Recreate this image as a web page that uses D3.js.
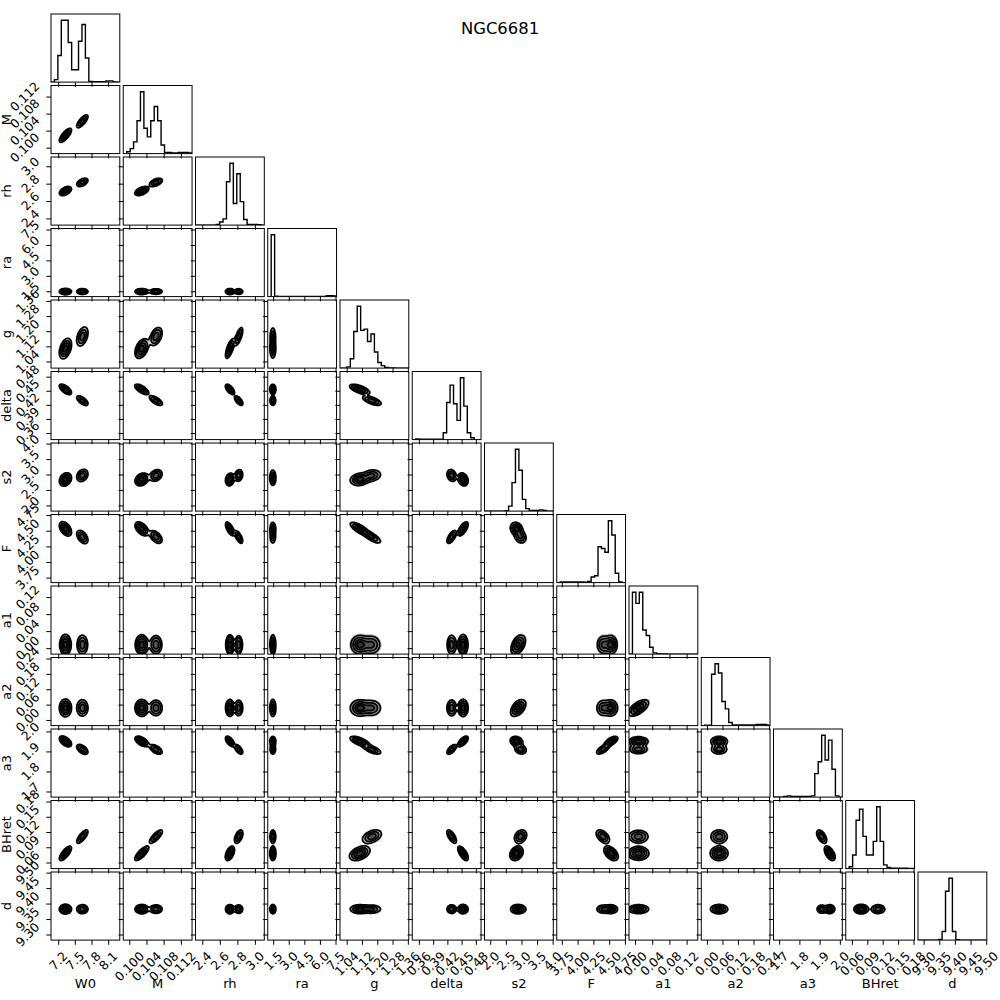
<!DOCTYPE html>
<html><head><meta charset="utf-8">
<script src="https://cdn.jsdelivr.net/npm/d3@7"></script>
<style>body{margin:0;background:#fff} text{font-family:"DejaVu Sans",sans-serif;fill:#000}</style>
</head><body>
<svg id="c" width="1000" height="1000" xmlns="http://www.w3.org/2000/svg"></svg>
<script>
// ---------------- data ----------------
const title = "NGC6681";
const params = ["W0","M","rh","ra","g","delta","s2","F","a1","a2","a3","BHret","d"];
const rangeMin = [7.07, 0.0986, 2.323, 0.98, 1.005, 0.346, 1.816, 3.67, -0.014, -0.022, 1.672, 0.048, 9.282];
const rangeMax = [8.31, 0.1146, 3.107, 7.60, 1.365, 0.491, 4.02, 4.76, 0.146, 0.244, 2.012, 0.182, 9.502];

const tickLabels = [
  ["7.2","7.5","7.8","8.1"],
  ["0.100","0.104","0.108","0.112"],
  ["2.4","2.6","2.8","3.0"],
  ["1.5","3.0","4.5","6.0","7.5"],
  ["1.04","1.12","1.20","1.28","1.36"],
  ["0.36","0.39","0.42","0.45","0.48"],
  ["2.0","2.5","3.0","3.5","4.0"],
  ["3.75","4.00","4.25","4.50","4.75"],
  ["0.00","0.04","0.08","0.12"],
  ["0.00","0.06","0.12","0.18","0.24"],
  ["1.7","1.8","1.9","2.0"],
  ["0.06","0.09","0.12","0.15","0.18"],
  ["9.30","9.35","9.40","9.45","9.50"]
];

// 1-D histograms (20 bins over each range, relative counts)
const histW0    = [0, 4, 43, 100, 100, 64, 20, 20, 66, 93, 39, 1, 0.5, 0.5, 0.5, 0.5, 2, 2, 0.3, 0];
const histM     = [0, 3, 8, 19, 53, 100, 41, 27, 53, 76, 53, 14, 2, 2, 1, 1, 2, 2, 2, 1];
const histRh    = [0, 0, 0, 0, 0, 0, 1, 5, 10, 70, 100, 35, 83, 38, 9, 1, 1, 1, 0.5, 0];
const histRa    = [0, 100, 0.5, 0.2, 0.2, 0.2, 0.2, 0.2, 0.2, 0.2, 0.2, 0.2, 0.2, 0.2, 0.2, 0.2, 0.2, 1.5, 1.5, 1];
const histG     = [0, 0, 2, 15, 59, 100, 61, 63, 43, 55, 26, 9, 4, 1, 0.3, 0.3, 0, 0, 0, 0];
const histDelta = [0, 1, 0.5, 0.5, 0.5, 0.5, 0.5, 0.5, 0.5, 11, 60, 88, 58, 31, 100, 54, 11, 3, 0, 0];
const histS2    = [0, 0, 0, 0, 0, 0, 0.5, 8, 46, 100, 66, 19, 4, 1, 1, 1, 2, 1, 0, 0];
const histF     = [0, 1, 1, 1, 1, 1, 1, 1, 0.5, 2, 9, 11, 58, 55, 49, 100, 77, 15, 1, 0];
const histA1    = [0, 100, 82, 100, 39, 30, 11, 2, 0.5, 0.3, 0.3, 0, 0, 0, 0, 0, 0, 0, 0, 0];
const histA2    = [0, 0.5, 0.5, 83, 100, 85, 39, 27, 5, 1, 1, 1, 1, 1, 1, 1, 2, 2, 2, 0.5];
const histA3    = [0, 0, 0, 1, 2, 1, 1, 1, 1, 1, 1, 2, 38, 57, 100, 60, 92, 45, 2, 0];
const histBHret = [0, 3, 22, 78, 96, 52, 22, 22, 44, 100, 44, 6, 2, 0.5, 0.5, 0.5, 0.5, 0.5, 0.3, 0.3];
const histD     = [0, 0, 0, 0, 0, 0, 1, 14, 79, 100, 14, 0.5, 0, 0, 0, 0, 0, 0, 0, 0];
const hists = [histW0, histM, histRh, histRa, histG, histDelta, histS2, histF, histA1, histA2, histA3, histBHret, histD];

// 2-D posterior: two modes (estimated centres / spreads)
const modeWeight = [0.58, 0.42];
const meanModeA  = [7.33, 0.1029, 2.715, 1.47, 1.108, 0.453, 2.84, 4.53, 0.008, 0.047, 1.95, 0.078, 9.382];
const meanModeB  = [7.635, 0.1062, 2.815, 1.47, 1.172, 0.429, 2.97, 4.40, 0.008, 0.047, 1.91, 0.111, 9.382];
const loadW0     = [0.045, 0.0007, 0.014, 0, 0.012, -0.004, 0.03, -0.03, 0, 0, -0.008, 0.006, 0];
const loadAmp    = [0, 0, 0, 0, 0, 0, 0.07, 0, 0.009, 0.014, 0, 0, 0];
const loadG      = [0, 0, 0.014, 0, 0.02, -0.002, 0, -0.035, 0, 0, -0.006, 0, 0];
const noiseSd    = [0.018, 0.00025, 0.008, 0.09, 0.01, 0.0015, 0.06, 0.025, 0.008, 0.008, 0.006, 0.0025, 0.0065];

// ---------------- layout ----------------
const K = params.length;
const X0 = 51, Y0 = 14, PW = 68.8, PH = 68.1, PX = 72.25, PY = 71.5;
const TICK = 4.7, PAD = 4.7;
const FS_TICK = 12.4, FS_LAB = 13, FS_TITLE = 16.4;

const svg = d3.select("#c");
const defs = svg.append("defs");
const sx = params.map((p, i) => d3.scaleLinear().domain([rangeMin[i], rangeMax[i]]).range([0, PW]));
const sy = params.map((p, i) => d3.scaleLinear().domain([rangeMin[i], rangeMax[i]]).range([PH, 0]));
const levels = [0.5, 1, 1.5, 2].map(s => 1 - Math.exp(-0.5 * s * s));

function cov(i, j) {
  let c = loadW0[i] * loadW0[j] + loadAmp[i] * loadAmp[j] + loadG[i] * loadG[j];
  if (i === j) {
    const bw = (rangeMax[i] - rangeMin[i]) / 20;
    c += noiseSd[i] * noiseSd[i] + (0.35 * bw) * (0.35 * bw);
  }
  return c;
}

const N = 72;
function densityGrid(xi, yi) {
  const vx = cov(xi, xi), vy = cov(yi, yi), cxy = cov(xi, yi);
  const det = vx * vy - cxy * cxy;
  const vals = new Float64Array(N * N);
  const means = [meanModeA, meanModeB];
  for (let r = 0; r < N; r++) {
    const y = rangeMin[yi] + (r + 0.5) / N * (rangeMax[yi] - rangeMin[yi]);
    for (let c = 0; c < N; c++) {
      const x = rangeMin[xi] + (c + 0.5) / N * (rangeMax[xi] - rangeMin[xi]);
      let v = 0;
      for (let k = 0; k < 2; k++) {
        const dx = x - means[k][xi], dy = y - means[k][yi];
        const q = (vy * dx * dx - 2 * cxy * dx * dy + vx * dy * dy) / det;
        v += modeWeight[k] * Math.exp(-0.5 * q);
      }
      vals[r * N + c] = v;
    }
  }
  return vals;
}

function levelThresholds(vals) {
  const flat = Array.from(vals).sort((a, b) => b - a);
  const tot = d3.sum(flat);
  let cum = 0;
  const cs = flat.map(v => (cum += v) / tot);
  const V = levels.map(p => {
    let idx = -1;
    for (let k = 0; k < cs.length; k++) { if (cs[k] <= p) idx = k; else break; }
    return idx >= 0 ? flat[idx] : flat[0];
  });
  return Array.from(new Set(V)).sort((a, b) => a - b);
}

// title
svg.append("text").attr("x", 500).attr("y", 34).attr("text-anchor", "middle")
  .style("font-size", FS_TITLE + "px").text(title);

function measure(str, fs) {
  const t = svg.append("text").style("font-size", fs + "px").text(str);
  const w = t.node().getComputedTextLength();
  t.remove();
  return w;
}

for (let i = 0; i < K; i++) {
  for (let j = 0; j <= i; j++) {
    const g = svg.append("g").attr("transform", `translate(${X0 + j * PX},${Y0 + i * PY})`);
    const cid = `clip${i}_${j}`;
    defs.append("clipPath").attr("id", cid).append("rect")
      .attr("x", 0).attr("y", 0).attr("width", PW).attr("height", PH);
    const body = g.append("g").attr("clip-path", `url(#${cid})`);
    const xs = sx[j];

    if (i === j) {
      const h = hists[i];
      const hy = d3.scaleLinear().domain([0, 1.1 * d3.max(h)]).range([PH, 0]);
      const bw = (rangeMax[i] - rangeMin[i]) / h.length;
      const pts = [[rangeMin[i], 0]];
      h.forEach((c, k) => pts.push([rangeMin[i] + k * bw, c]));
      pts.push([rangeMax[i], h[h.length - 1]]);
      pts.push([rangeMax[i], 0]);
      const line = d3.line().x(d => xs(d[0])).y(d => hy(d[1])).curve(d3.curveStepAfter);
      body.append("path").attr("d", line(pts)).attr("fill", "none")
        .attr("stroke", "#000").attr("stroke-width", 1.4).attr("stroke-linejoin", "miter");
    } else {
      const ys = sy[i];
      const vals = densityGrid(j, i);
      const vmax = d3.max(vals);
      const proj = d3.geoTransform({
        point: function (x, y) {
          this.stream.point(xs(rangeMin[j] + x / N * (rangeMax[j] - rangeMin[j])),
                            ys(rangeMin[i] + y / N * (rangeMax[i] - rangeMin[i])));
        }
      });
      const path = d3.geoPath(proj);
      // density shading
      const shade = d3.contours().size([N, N])
        .thresholds([0.1, 0.22, 0.36, 0.5, 0.64, 0.78, 0.9].map(f => f * vmax))(vals);
      body.selectAll("path.sh").data(shade).join("path").attr("class", "sh")
        .attr("d", path).attr("fill", "#000").attr("fill-opacity", 0.2).attr("stroke", "none");
      // contour lines
      const V = levelThresholds(vals);
      const cont = d3.contours().size([N, N]).thresholds(V)(vals);
      body.selectAll("path.ct").data(cont).join("path").attr("class", "ct")
        .attr("d", path).attr("fill", "none").attr("stroke", "#000").attr("stroke-width", 1.75);
    }

    // frame
    g.append("rect").attr("x", 0).attr("y", 0).attr("width", PW).attr("height", PH)
      .attr("fill", "none").attr("stroke", "#000").attr("stroke-width", 1);

    // bottom ticks
    const tv = tickLabels[j].map(Number);
    const axB = g.append("g").attr("transform", `translate(0,${PH})`)
      .call(d3.axisBottom(xs).tickValues(tv).tickSize(TICK).tickSizeOuter(0).tickFormat(""));
    axB.select(".domain").remove();
    axB.selectAll("line").attr("stroke", "#000").attr("stroke-width", 1);

    // left ticks for 2-D panels
    if (i !== j) {
      const tvy = tickLabels[i].map(Number);
      const axL = g.append("g")
        .call(d3.axisLeft(sy[i]).tickValues(tvy).tickSize(TICK).tickSizeOuter(0).tickFormat(""));
      axL.select(".domain").remove();
      axL.selectAll("line").attr("stroke", "#000").attr("stroke-width", 1);
    }

    // bottom row labels
    if (i === K - 1) {
      tickLabels[j].forEach(lab => {
        const w = measure(lab, FS_TICK);
        const s = (w + FS_TICK * 0.99) / Math.SQRT2;
        const cx = xs(+lab), cy = PH + TICK + PAD + s / 2;
        g.append("text").attr("transform", `translate(${cx},${cy}) rotate(-45)`)
          .attr("text-anchor", "middle").attr("dy", "0.36em")
          .style("font-size", FS_TICK + "px").text(lab);
      });
      g.append("text").attr("x", PW / 2).attr("y", 988 - (Y0 + i * PY))
        .attr("text-anchor", "middle").style("font-size", FS_LAB + "px").text(params[j]);
    }
    // left column labels
    if (j === 0 && i > 0) {
      tickLabels[i].forEach(lab => {
        const w = measure(lab, FS_TICK);
        const s = (w + FS_TICK * 0.99) / Math.SQRT2;
        const cx = -TICK - PAD - s / 2, cy = sy[i](+lab);
        g.append("text").attr("transform", `translate(${cx},${cy}) rotate(-45)`)
          .attr("text-anchor", "middle").attr("dy", "0.36em")
          .style("font-size", FS_TICK + "px").text(lab);
      });
      g.append("text").attr("transform", `translate(${11 - X0},${PH / 2}) rotate(-90)`)
        .attr("text-anchor", "middle").style("font-size", FS_LAB + "px").text(params[i]);
    }
  }
}
</script>
</body></html>
